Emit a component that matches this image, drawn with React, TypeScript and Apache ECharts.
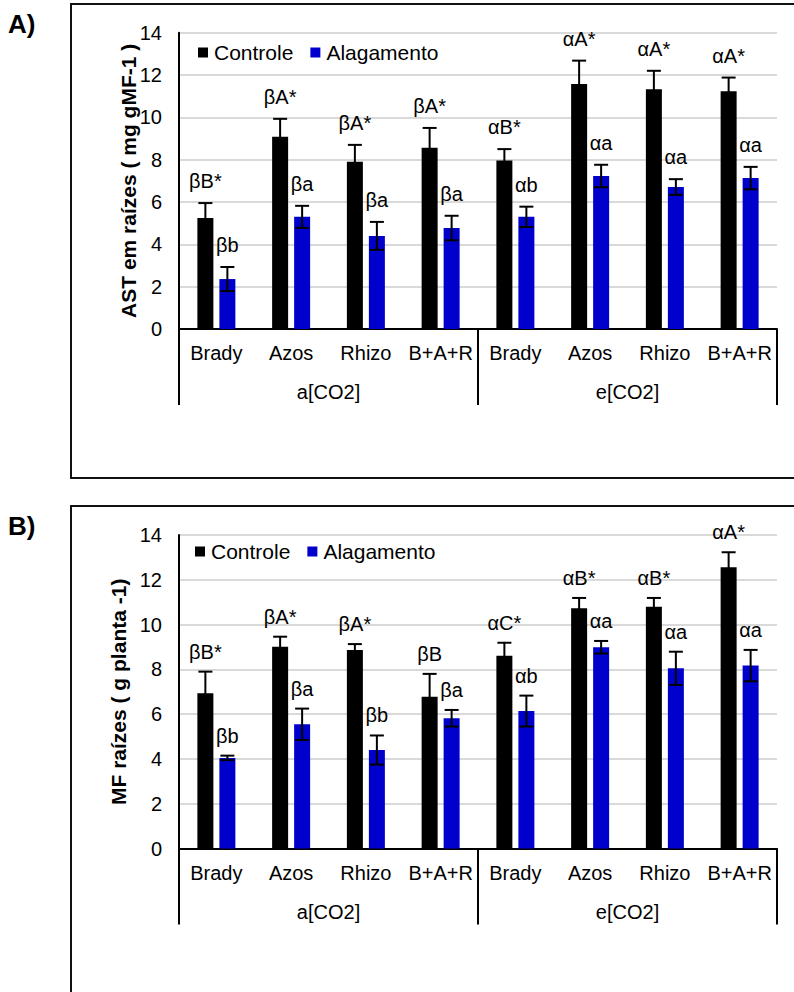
import React, { useEffect, useRef } from "react";
import * as echarts from "echarts";

const categories = ["Brady", "Azos", "Rhizo", "B+A+R", "Brady", "Azos", "Rhizo", "B+A+R"];
const groups = ["a[CO2]", "e[CO2]"];
const yTicks = { min: 0, max: 14, interval: 2 };

// Panel A: AST em raízes
const ctrlA = [5.25, 9.08, 7.9, 8.56, 7.96, 11.58, 11.33, 11.23];
const ctrlErrA = [0.7, 0.85, 0.8, 0.94, 0.54, 1.1, 0.87, 0.65];
const alagA = [2.36, 5.3, 4.4, 4.77, 5.3, 7.23, 6.71, 7.13];
const alagErrA = [0.57, 0.52, 0.66, 0.58, 0.48, 0.53, 0.37, 0.53];
const ctrlLabA = ["βB*", "βA*", "βA*", "βA*", "αB*", "αA*", "αA*", "αA*"];
const alagLabA = ["βb", "βa", "βa", "βa", "αb", "αa", "αa", "αa"];

// Panel B: MF raízes
const ctrlB = [6.93, 9.01, 8.87, 6.78, 8.61, 10.73, 10.8, 12.56];
const ctrlErrB = [0.97, 0.45, 0.26, 1.02, 0.58, 0.46, 0.39, 0.67];
const alagB = [4.05, 5.55, 4.4, 5.82, 6.14, 8.99, 8.05, 8.17];
const alagErrB = [0.1, 0.7, 0.65, 0.37, 0.69, 0.28, 0.74, 0.7];
const ctrlLabB = ["βB*", "βA*", "βA*", "βB", "αC*", "αB*", "αB*", "αA*"];
const alagLabB = ["βb", "βa", "βb", "βa", "αb", "αa", "αa", "αa"];

const FONT = "'Liberation Sans', Arial, sans-serif";
const BLACK = "#000000";
const BLUE = "#0000CC";
const BAR_W = 16;
const OFF = 11;

function errSeries(vals: number[], errs: number[], labels: string[], axis: number, offset: number, labelGap: number) {
  return {
    type: "custom",
    xAxisIndex: axis,
    yAxisIndex: axis,
    z: 10,
    clip: false,
    silent: true,
    data: vals.map((v, i) => [i, v, errs[i]]),
    encode: { x: 0, y: 1 },
    renderItem: (params: any, api: any) => {
      const i = api.value(0);
      const v = api.value(1);
      const e = api.value(2);
      const top = api.coord([i, v + e]);
      const bot = api.coord([i, v - e]);
      const x = top[0] + offset;
      const cap = 7;
      const st = { stroke: "#000", lineWidth: 2 };
      return {
        type: "group",
        children: [
          { type: "line", shape: { x1: x, y1: top[1], x2: x, y2: bot[1] }, style: st },
          { type: "line", shape: { x1: x - cap, y1: top[1], x2: x + cap, y2: top[1] }, style: st },
          { type: "line", shape: { x1: x - cap, y1: bot[1], x2: x + cap, y2: bot[1] }, style: st },
          {
            type: "text",
            x: x,
            y: top[1] - labelGap,
            style: {
              text: labels[params.dataIndex],
              fontSize: 20,
              fontFamily: FONT,
              fill: "#000",
              align: "center",
              verticalAlign: "middle",
            },
          },
        ],
      };
    },
  };
}

function axesFor(gridIndex: number, name: string, nameGap: number) {
  const x1 = {
    type: "category",
    gridIndex,
    data: categories,
    boundaryGap: true,
    axisLine: { show: true, lineStyle: { color: "#000", width: 2 } },
    axisTick: { show: false },
    axisLabel: { fontSize: 20, fontFamily: FONT, color: "#000", margin: 14, interval: 0 },
    splitLine: { show: false },
  };
  const x2 = {
    type: "category",
    gridIndex,
    position: "bottom",
    data: groups,
    boundaryGap: true,
    axisLine: { show: false },
    axisTick: { show: true, length: 76, lineStyle: { color: "#000", width: 2 } },
    axisLabel: { fontSize: 20, fontFamily: FONT, color: "#000", margin: 53, interval: 0 },
    splitLine: { show: false },
  };
  const y = {
    type: "value",
    gridIndex,
    min: yTicks.min,
    max: yTicks.max,
    interval: yTicks.interval,
    name,
    nameLocation: "middle",
    nameRotate: 90,
    nameGap,
    nameMoveOverlap: false,
    nameTextStyle: { fontSize: 21, fontWeight: "bold", fontFamily: FONT, color: "#000" },
    axisLine: { show: true, lineStyle: { color: "#000", width: 2 } },
    axisTick: { show: false },
    axisLabel: { fontSize: 20, fontFamily: FONT, color: "#000", margin: 17 },
    splitLine: { show: true, lineStyle: { color: "#d9d9d9", width: 2 } },
  };
  return { x1, x2, y };
}

export default function App() {
  const ref = useRef<HTMLDivElement>(null);
  useEffect(() => {
    document.body.style.margin = "0";
    if (!ref.current) return;
    const chart = echarts.init(ref.current, undefined, { renderer: "svg" });
    const a = axesFor(0, "AST em raízes ( mg gMF-1 )", 40);
    const b = axesFor(1, "MF raízes ( g planta -1)", 50);
    const barCommon = { type: "bar", barWidth: BAR_W, barGap: "37.5%" };
    const legendCommon = {
      data: ["Controle", "Alagamento"],
      icon: "rect",
      itemWidth: 10,
      itemHeight: 10,
      itemGap: 17,
      textStyle: { fontSize: 21, fontFamily: FONT, color: "#000", padding: [0, 0, 0, 1] },
      padding: 0,
      selectedMode: false,
    };
    chart.setOption({
      animation: false,
      backgroundColor: "#fff",
      grid: [
        { left: 179, top: 32.7, width: 598, height: 296.3 },
        { left: 179, top: 535, width: 598, height: 313.6 },
      ],
      xAxis: [
        { ...a.x1, gridIndex: 0 },
        { ...b.x1, gridIndex: 1 },
        { ...a.x2, gridIndex: 0 },
        { ...b.x2, gridIndex: 1 },
      ],
      yAxis: [a.y, b.y],
      legend: [
        { ...legendCommon, left: 198, top: 42 },
        { ...legendCommon, left: 195, top: 541 },
      ],
      graphic: [
        { type: "rect", shape: { x: 71, y: 4, width: 800, height: 474 }, style: { fill: "none", stroke: "#111", lineWidth: 2 }, z: -1 },
        { type: "rect", shape: { x: 71, y: 506, width: 800, height: 600 }, style: { fill: "none", stroke: "#111", lineWidth: 2 }, z: -1 },
        { type: "text", x: 8, y: 11, style: { text: "A)", fontSize: 26, fontWeight: "bold", fontFamily: FONT, fill: "#000" } },
        { type: "text", x: 8, y: 513, style: { text: "B)", fontSize: 26, fontWeight: "bold", fontFamily: FONT, fill: "#000" } },
      ],
      series: [
        { ...barCommon, name: "Controle", xAxisIndex: 0, yAxisIndex: 0, data: ctrlA, itemStyle: { color: BLACK } },
        { ...barCommon, name: "Alagamento", xAxisIndex: 0, yAxisIndex: 0, data: alagA, itemStyle: { color: BLUE } },
        { ...barCommon, name: "Controle", xAxisIndex: 1, yAxisIndex: 1, data: ctrlB, itemStyle: { color: BLACK } },
        { ...barCommon, name: "Alagamento", xAxisIndex: 1, yAxisIndex: 1, data: alagB, itemStyle: { color: BLUE } },
        errSeries(ctrlA, ctrlErrA, ctrlLabA, 0, -OFF, 22),
        errSeries(alagA, alagErrA, alagLabA, 0, OFF, 22),
        errSeries(ctrlB, ctrlErrB, ctrlLabB, 1, -OFF, 20),
        errSeries(alagB, alagErrB, alagLabB, 1, OFF, 20),
      ],
    });
    return () => chart.dispose();
  }, []);
  return <div ref={ref} style={{ width: 794, height: 992 }} />;
}
